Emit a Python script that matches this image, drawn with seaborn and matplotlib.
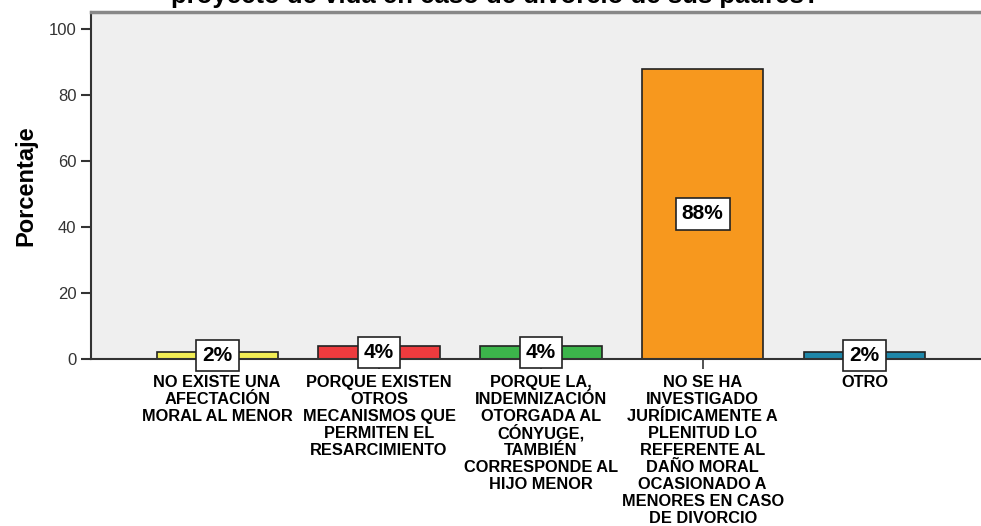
import pandas as pd
import seaborn as sns
import matplotlib.pyplot as plt

# chart data
categorias = [
    "NO EXISTE UNA\nAFECTACIÓN\nMORAL AL MENOR",
    "PORQUE EXISTEN\nOTROS\nMECANISMOS QUE\nPERMITEN EL\nRESARCIMIENTO",
    "PORQUE LA,\nINDEMNIZACIÓN\nOTORGADA AL\nCÓNYUGE,\nTAMBIÉN\nCORRESPONDE AL\nHIJO MENOR",
    "NO SE HA\nINVESTIGADO\nJURÍDICAMENTE A\nPLENITUD LO\nREFERENTE AL\nDAÑO MORAL\nOCASIONADO A\nMENORES EN CASO\nDE DIVORCIO",
    "OTRO",
]
porcentajes = [2, 4, 4, 88, 2]
etiquetas = ["2%", "4%", "4%", "88%", "2%"]
colores = ["#f3ee55", "#ee3b3e", "#3cb54b", "#f7981e", "#1f87a9"]
titulo = "proyecto de vida en caso de divorcio de sus padres?"

sns.set_style("white")
plt.rcParams['font.family'] = ['Liberation Sans', 'DejaVu Sans']

df = pd.DataFrame({"categoria": categorias, "porcentaje": porcentajes})

fig = plt.figure(figsize=(9.81, 5.26), dpi=100)
ax = fig.add_axes([91 / 981, 1 - 359 / 526, 1 - 91 / 981, 347 / 526])
ax.set_facecolor("#efefef")

sns.barplot(data=df, x="categoria", y="porcentaje", hue="categoria",
            palette=colores, saturation=1, legend=False, width=0.75,
            edgecolor="#222222", linewidth=1.2, ax=ax)

# percentage labels in white boxes, centred in each bar
for i, (v, t) in enumerate(zip(porcentajes, etiquetas)):
    ax.text(i, v / 2, t, ha="center", va="center", fontsize=15,
            fontweight="bold", color="black",
            bbox=dict(boxstyle="square,pad=0.3", facecolor="white",
                      edgecolor="#222222", linewidth=1.2), zorder=5)

ax.set_ylim(0, 105.2)
ax.set_xlim(-0.78, 4.72)
ax.set_yticks([0, 20, 40, 60, 80, 100])
ax.tick_params(axis="y", labelsize=12, labelcolor="#333333", length=7,
               width=1.5, color="#333333", direction="out", left=True)
ax.tick_params(axis="x", length=7, width=1.2, color="#333333",
               bottom=True, labelbottom=False)

# category labels drawn line by line so the spacing stays even
for i, cat in enumerate(categorias):
    for j, linea in enumerate(cat.split("\n")):
        ax.annotate(linea, xy=(i, 0), xycoords=("data", "axes fraction"),
                    xytext=(0, -20.2 - 12.24 * j), textcoords="offset points",
                    ha="center", va="baseline", fontsize=11.8,
                    fontweight="bold", color="black", annotation_clip=False)

ax.set_xlabel("")
ax.set_ylabel("Porcentaje", fontsize=17, fontweight="bold", labelpad=8,
              color="black")

for side in ["left", "bottom"]:
    ax.spines[side].set_color("#333333")
    ax.spines[side].set_linewidth(1.5)
ax.spines["top"].set_color("#888888")
ax.spines["top"].set_linewidth(2.5)
ax.spines["right"].set_visible(False)

# title, cut off at the top of the image
fig.text(495 / 981, 1 - 3.5 / 526, titulo, ha="center", va="baseline",
         fontsize=18.5, fontweight="bold", color="black")

plt.savefig("out.png", dpi=100)
